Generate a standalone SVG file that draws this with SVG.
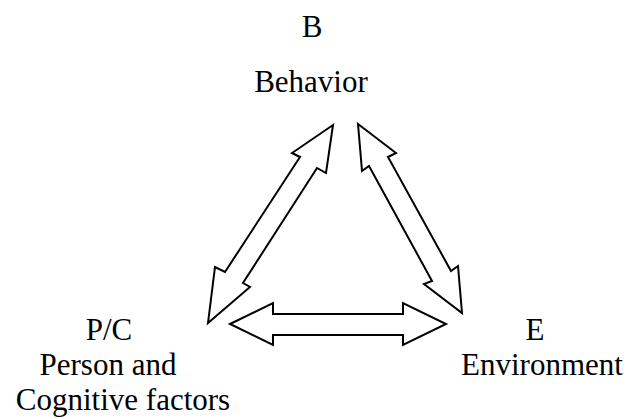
<svg xmlns="http://www.w3.org/2000/svg" width="629" height="419" viewBox="0 0 629 419">
<style>
.t{font-family:"Liberation Serif","Times New Roman",serif;font-size:31px;fill:#000;text-anchor:middle}
.a{fill:#fff;stroke:#000;stroke-width:2;stroke-linejoin:miter}
</style>
<rect width="629" height="419" fill="#fff"/>
<g id="node-B">
<text class="t" x="312" y="37">B</text>
<text class="t" x="311" y="92">Behavior</text>
</g>
<g id="node-PC">
<text class="t" x="109" y="340">P/C</text>
<text class="t" x="108" y="375">Person and</text>
<text class="t" x="123" y="410">Cognitive factors</text>
</g>
<g id="node-E">
<text class="t" x="535" y="340">E</text>
<text class="t" x="542" y="375">Environment</text>
</g>
<g id="connectors">
<polygon class="a" points="333,125 326,173 317,168 243,283 250,287 208,323 215,267 225,272 300,157 292,153"/>
<polygon class="a" points="358,124 396,153 388,157 451,271 458,266 462,313 424,284 432,281 369,166 362,171"/>
<polygon class="a" points="230,324 273,303 273,314 403,314 403,303 446,324 403,345 403,335 273,335 273,345"/>
</g>
</svg>
